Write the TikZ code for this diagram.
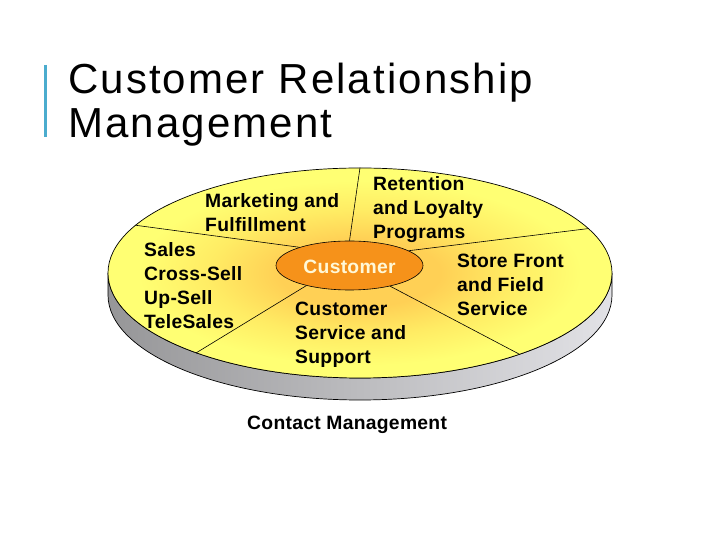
\documentclass[tikz,border=0pt]{standalone}
\usepackage{fontspec}
\setmainfont{Liberation Sans}
\newfontfamily\titlefont[LetterSpace=5]{Liberation Sans}
\newfontfamily\labelfont[LetterSpace=1.5]{Liberation Sans Bold}
\usetikzlibrary{shapes.geometric}
\definecolor{barblue}{RGB}{75,172,206}
\definecolor{discyel}{RGB}{255,255,115}
\definecolor{discmid}{RGB}{255,236,100}
\definecolor{discglowc}{RGB}{255,208,85}
\definecolor{custorange}{RGB}{246,146,26}
\definecolor{custtext}{RGB}{255,248,215}
\definecolor{sidedark}{RGB}{150,150,152}
\definecolor{sidelight}{RGB}{226,226,230}
\pgfdeclareradialshading{discglow}{\pgfpoint{0bp}{0bp}}{color(0bp)=(discglowc); color(8bp)=(discglowc); color(15bp)=(discmid); color(22bp)=(discyel); color(50bp)=(discyel)}
\newcommand\lbl[1]{\begin{tabular}[t]{@{}l@{}}#1\end{tabular}}
\tikzset{
  lab/.style={anchor=base west, inner sep=0pt, font=\labelfont\fontsize{19.3}{24}\selectfont},
  ttl/.style={anchor=base west, inner sep=0pt, font=\titlefont\fontsize{42}{44}\selectfont},
  divline/.style={draw=black, line width=0.6pt},
}
\begin{document}
\begin{tikzpicture}[x=1pt,y=1pt]
\useasboundingbox (0,0) rectangle (720,540);
\fill[white] (0,0) rectangle (720,540);
% title
\draw[barblue, line width=3.5pt] (45.5,475) -- (45.5,403);
\node[ttl] (t1) at (68,446) {Customer Relationship};
\node[ttl] (t2) at (68,402) {Management};
% disc side
\path[shading=axis, left color=sidedark, right color=sidelight, draw=black, line width=0.7pt]
  (108,267) -- (108,245) arc[start angle=180, end angle=360, x radius=252, y radius=105]
  -- (612,267) arc[start angle=0, end angle=-180, x radius=252, y radius=105] -- cycle;
% disc top
\node[ellipse, minimum width=504pt, minimum height=210pt, inner sep=0pt, shading=discglow, draw=black, line width=0.7pt] (disc) at (360,267) {};
% center
\node[ellipse, minimum width=147pt, minimum height=49pt, inner sep=0pt, fill=custorange, draw=black, line width=0.6pt,
  text=custtext, font=\labelfont\fontsize{19.3}{24}\selectfont, text height=17pt, text depth=0pt] (cust) at (349.5,274.5) {Customer};
% dividing lines
\draw[divline] (cust.90) -- (disc.90.5);
\draw[divline] (cust.160) -- (disc.168.8);
\draw[divline] (cust.14.5) -- (disc.11.2);
\draw[divline] (cust.205) -- (disc.206.3);
\draw[divline] (cust.333) -- (disc.333.3);
% labels
\node[lab] (mkt) at (205,332) {\lbl{Marketing and\\Fulfillment}};
\node[lab] (ret) at (373,349) {\lbl{Retention\\and Loyalty\\Programs}};
\node[lab] (sales) at (144,283) {\lbl{Sales\\Cross-Sell\\Up-Sell\\TeleSales}};
\node[lab] (store) at (457,272) {\lbl{Store Front\\and Field\\Service}};
\node[lab] (serv) at (295,224) {\lbl{Customer\\Service and\\Support}};
\node[lab] (contact) at (247,110) {Contact Management};
\end{tikzpicture}
\end{document}
